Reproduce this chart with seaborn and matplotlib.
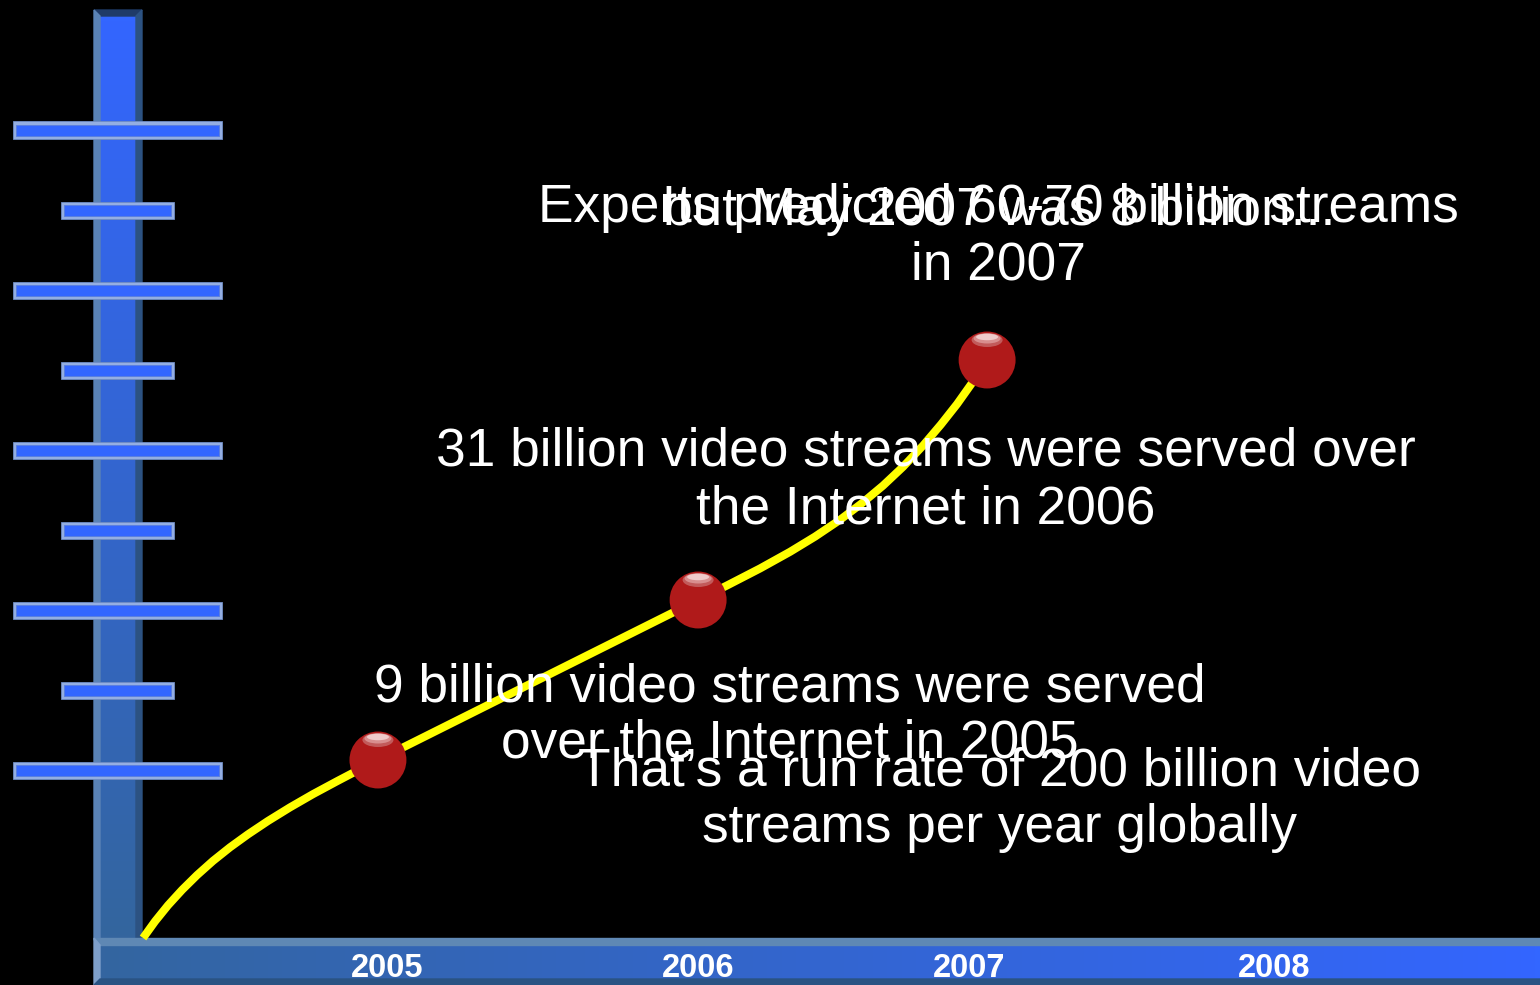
import numpy as np
import matplotlib
matplotlib.use("Agg")
import matplotlib.pyplot as plt
import seaborn as sns
from matplotlib.patches import Rectangle, Ellipse, Polygon
from matplotlib import transforms as mtransforms

# ---------------- data ----------------
years = [2005, 2006, 2007, 2008]
year_labels = ["2005", "2006", "2007", "2008"]
scale_levels = [1, 2, 3, 4, 5, 6, 7, 8, 9]

milestone_year = [2004.959, 2006.048, 2007.031]
milestone_level = [1.125, 3.125, 6.125]

trend_year = [2004.160, 2004.201, 2004.245, 2004.293, 2004.344, 2004.398, 2004.456,
              2004.517, 2004.585, 2004.660, 2004.738, 2004.820, 2004.888, 2004.959,
              2006.048, 2006.146, 2006.259, 2006.361, 2006.446, 2006.531, 2006.605,
              2006.677, 2006.745, 2006.813, 2006.874, 2006.929, 2006.980, 2007.031]
trend_level = [-1.100, -0.891, -0.691, -0.498, -0.313, -0.136, 0.034,
               0.196, 0.363, 0.533, 0.698, 0.860, 0.991, 1.125,
               3.125, 3.306, 3.520, 3.728, 3.918, 4.128, 4.334,
               4.555, 4.790, 5.055, 5.319, 5.575, 5.839, 6.125]

note_2005 = ["9 billion video streams were served", "over the Internet in 2005"]
note_2006 = ["31 billion video streams were served over", "the Internet in 2006"]
note_2007a = ["Experts predicted 60-70 billion streams", "in 2007"]
note_2007b = ["but May 2007 was 8 billion..."]
note_rate = ["That\u2019s a run rate of 200 billion video", "streams per year globally"]

# ---------------- layout ----------------
W, H = 1540, 985
X2005_PX, PX_PER_YEAR = 390, 294
LEVEL0_PX, PX_PER_LEVEL = 850, 80
year_label_pos = [2004.990, 2006.048, 2006.969, 2008.007]

sns.set_theme(style="dark")
plt.rcParams["font.family"] = ["Liberation Sans", "DejaVu Sans"]

fig = plt.figure(figsize=(W / 100, H / 100), dpi=100, facecolor="black")
bg = fig.add_axes([0, 0, 1, 1])
bg.set_facecolor("black")
ax = fig.add_axes([0, 0, 1, 1])
ax.patch.set_alpha(0)

# --- decorative frame (vertical bar) ---
vgrad = np.zeros((200, 1, 3))
vgrad[:, 0, 0] = np.linspace(51, 52, 200) / 255
vgrad[:, 0, 1] = np.linspace(102, 101, 200) / 255
vgrad[:, 0, 2] = np.linspace(255, 158, 200) / 255
bg.imshow(vgrad, extent=(100, 136, 940, 16), aspect="auto", origin="upper", zorder=1)
bg.add_patch(Polygon([(94, 10), (142, 10), (136, 16), (100, 16)], closed=True, color="#1f3b68", zorder=2))
bg.add_patch(Polygon([(94, 10), (100, 16), (100, 940), (94, 940)], closed=True, color="#5a83b6", zorder=2))
bg.add_patch(Polygon([(142, 10), (136, 16), (136, 940), (142, 940)], closed=True, color="#2c5282", zorder=2))

# --- decorative frame (bottom bar) ---
hgrad = np.zeros((1, 300, 3))
hgrad[0, :, 0] = np.linspace(52, 51, 300) / 255
hgrad[0, :, 1] = np.linspace(101, 102, 300) / 255
hgrad[0, :, 2] = np.linspace(160, 255, 300) / 255
bg.imshow(hgrad, extent=(100, 1540, 979, 945), aspect="auto", origin="upper", zorder=3)
bg.add_patch(Polygon([(94, 938), (1540, 938), (1540, 945), (100, 945)], closed=True, color="#5f88b4", zorder=4))
bg.add_patch(Polygon([(94, 938), (100, 945), (100, 979), (94, 985)], closed=True, color="#7e9fca", zorder=4))
bg.add_patch(Polygon([(94, 985), (100, 979), (1540, 979), (1540, 985)], closed=True, color="#2a5383", zorder=4))
bg.set_xlim(0, W)
bg.set_ylim(H, 0)
bg.axis("off")

# --- data axes ---
ax.set_xlim(2005 - X2005_PX / PX_PER_YEAR, 2005 + (W - X2005_PX) / PX_PER_YEAR)
ax.set_ylim(-(H - LEVEL0_PX) / PX_PER_LEVEL, LEVEL0_PX / PX_PER_LEVEL)

# scale ticks as bevelled bars
blend_tick = mtransforms.blended_transform_factory(bg.transData, ax.transData)
bar_h = 17 / PX_PER_LEVEL
inset_y = 3 / PX_PER_LEVEL
for lv in scale_levels:
    x0, x1 = (13, 222) if lv % 2 == 1 else (61, 174)
    ax.add_patch(Rectangle((x0, lv - bar_h / 2), x1 - x0, bar_h, transform=blend_tick,
                           facecolor="#94aee2", edgecolor="#6f8cc4", linewidth=0.6, zorder=2))
    ax.add_patch(Rectangle((x0 + 3, lv - bar_h / 2 + inset_y), x1 - x0 - 6, bar_h - 2 * inset_y,
                           transform=blend_tick, facecolor="#3366ff", edgecolor="#5a7fe0",
                           linewidth=0.7, zorder=2.1))

# trend line
sns.lineplot(x=trend_year, y=trend_level, sort=False, color="#ffff00", linewidth=5.8,
             ax=ax, zorder=3)
ln = ax.get_lines()[-1]
ln.set_solid_capstyle("butt")
ln.set_solid_joinstyle("round")

# milestone dots
sns.scatterplot(x=milestone_year, y=milestone_level, s=41 ** 2, color="#b01a1a",
                edgecolor="none", linewidth=0, ax=ax, zorder=4, legend=False)
for xv, yv in zip(milestone_year, milestone_level):
    tr = fig.dpi_scale_trans + mtransforms.ScaledTranslation(xv, yv, ax.transData)
    ax.add_patch(Ellipse((0, 0.20), 0.31, 0.14, transform=tr, facecolor="#c25a5a",
                         edgecolor="none", zorder=4.5))
    ax.add_patch(Ellipse((0, 0.215), 0.27, 0.10, transform=tr, facecolor="#d88e8e",
                         edgecolor="none", zorder=4.55))
    ax.add_patch(Ellipse((0, 0.23), 0.22, 0.065, transform=tr, facecolor="#efcaca",
                         edgecolor="none", zorder=4.6))

# year labels on the bottom bar
blend_year = mtransforms.blended_transform_factory(ax.transData, bg.transData)
for xp, lab in zip(year_label_pos, year_labels):
    ax.text(xp, 977, lab, transform=blend_year, ha="center", va="baseline",
            fontsize=23.5, fontweight="bold", color="white", zorder=6)

# notes
def put_note(lines, xc, base, gap=57):
    for i, t in enumerate(lines):
        ax.text(xc, base + i * gap, t, transform=bg.transData, ha="center", va="baseline",
                fontsize=38.3, color="white", zorder=7)

put_note(note_2005, 790, 702, 56)
put_note(note_2006, 926, 466, 57)
put_note(note_2007a, 998, 222, 57)
put_note(note_2007b, 999, 225)
put_note(note_rate, 999, 785, 57)

ax.axis("off")
fig.savefig("out.png", dpi=100, facecolor="black")
